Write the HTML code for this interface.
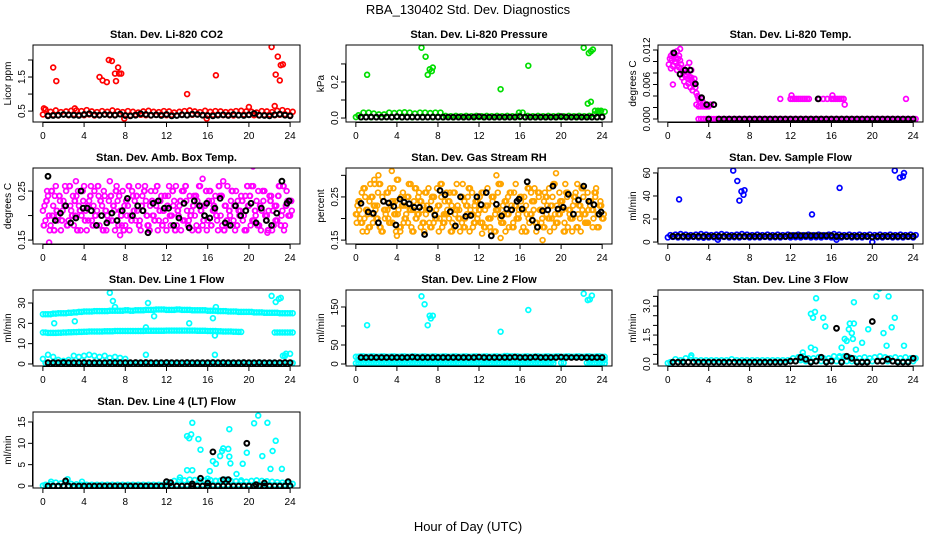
<!DOCTYPE html>
<html><head><meta charset="utf-8"><style>
body{margin:0;background:#fff}
svg{display:block;font-family:"Liberation Sans",sans-serif}
</style></head><body>
<svg id="chart" width="936" height="540" viewBox="0 0 936 540">
<rect width="936" height="540" fill="#fff"/>
<text x="468" y="14" text-anchor="middle" font-size="13">RBA_130402  Std. Dev. Diagnostics</text>
<text x="468" y="531" text-anchor="middle" font-size="13">Hour of Day (UTC)</text>
</svg>
<script>
const H=[0,0.5,1,1.5,2,2.5,3,3.5,4,4.5,5,5.5,6,6.5,7,7.5,8,8.5,9,9.5,10,10.5,11,11.5,12,12.5,13,13.5,14,14.5,15,15.5,16,16.5,17,17.5,18,18.5,19,19.5,20,20.5,21,21.5,22,22.5,23,23.5,24];
const Q=[0,0.25,0.5,0.75,1,1.25,1.5,1.75,2,2.25,2.5,2.75,3,3.25,3.5,3.75,4,4.25,4.5,4.75,5,5.25,5.5,5.75,6,6.25,6.5,6.75,7,7.25,7.5,7.75,8,8.25,8.5,8.75,9,9.25,9.5,9.75,10,10.25,10.5,10.75,11,11.25,11.5,11.75,12,12.25,12.5,12.75,13,13.25,13.5,13.75,14,14.25,14.5,14.75,15,15.25,15.5,15.75,16,16.25,16.5,16.75,17,17.25,17.5,17.75,18,18.25,18.5,18.75,19,19.25,19.5,19.75,20,20.25,20.5,20.75,21,21.25,21.5,21.75,22,22.25,22.5,22.75,23,23.25,23.5,23.75,24];
const xTicks=[0,4,8,12,16,20,24];

// CO2
const co2Lo=[0.40,0.38,0.39,0.37,0.40,0.38,0.41,0.39,0.38,0.40,0.37,0.39,0.40,0.38,0.39,0.41,0.37,0.38,0.40,0.39,0.38,0.37,0.39,0.40,0.38,0.39,0.37,0.40,0.38,0.39,0.41,0.38,0.37,0.39,0.40,0.38,0.39,0.37,0.38,0.40,0.39,0.38,0.37,0.39,0.40,0.38,0.39,0.41,0.38];
const co2Hi=[0.55,0.48,0.52,0.47,0.49,0.51,0.52,0.50,0.53,0.49,0.47,0.50,0.48,0.52,0.49,0.47,0.50,0.48,0.46,0.49,0.51,0.48,0.47,0.50,0.49,0.46,0.48,0.50,0.52,0.49,0.47,0.51,0.48,0.50,0.49,0.47,0.48,0.50,0.51,0.49,0.48,0.46,0.50,0.49,0.47,0.51,0.53,0.50,0.48];
const co2OutH=[0.1,1.0,1.3,5.5,5.8,6.2,6.4,6.7,7.0,7.1,7.3,7.4,7.6,3.1,14.0,16.8,20.0,22.2,22.5,22.6,22.8,23.0,23.1,23.3,7.9,15.9];
const co2OutV=[0.58,1.78,1.38,1.5,1.4,1.35,2.0,1.97,1.6,1.38,1.78,1.6,1.6,0.58,1.0,1.55,0.62,2.38,0.65,1.57,2.1,1.4,1.85,1.87,0.28,0.28];
const co2Blk=[null,0.36,0.37,0.38,0.40,0.39,0.38,0.37,0.40,0.42,0.39,0.38,0.40,0.39,0.38,0.41,0.37,0.36,0.38,0.42,0.40,0.38,0.39,0.37,0.40,0.36,0.37,0.39,0.38,0.41,0.40,0.38,0.37,0.36,0.38,0.39,0.37,0.40,0.38,0.37,0.39,0.43,0.38,0.37,0.36,0.39,0.41,0.38,0.36];

// Pressure
const prLo=[0.005,0.004,0.005,0.004,0.005,0.004,0.005,0.004,0.005,0.004,0.005,0.004,0.005,0.004,0.005,0.004,0.005,0.004,0.005,0.004,0.005,0.004,0.005,0.004,0.005,0.004,0.005,0.004,0.005,0.004,0.005,0.004,0.005,0.004,0.005,0.004,0.005,0.004,0.005,0.004,0.005,0.004,0.005,0.004,0.005,0.004,0.005,0.004,0.005];
const prHi=[0.015,0.03,0.03,0.025,0.02,0.02,0.03,0.028,0.03,0.032,0.03,0.025,0.03,0.03,0.028,0.03,0.03,0.012,0.01,0.012,0.01,0.012,0.01,0.012,0.01,0.012,0.01,0.012,0.01,0.012,0.01,0.012,0.03,0.012,0.01,0.012,0.01,0.012,0.01,0.012,0.01,0.012,0.01,0.012,0.01,0.012,0.02,0.035,0.035];
const prOutH=[1.1,6.4,6.8,7.0,7.2,7.4,7.5,16.8,14.1,15.9,22.2,22.7,22.9,23.1,22.6,22.9,23.3,23.6,23.9];
const prOutV=[0.24,0.39,0.34,0.24,0.27,0.26,0.28,0.29,0.16,0.03,0.39,0.36,0.37,0.38,0.08,0.09,0.04,0.04,0.04];
const prBlk=[null,0.005,0.005,0.006,0.005,0.005,0.006,0.005,0.008,0.005,0.005,0.006,0.005,0.005,0.005,0.006,0.005,0.005,0.005,0.005,0.005,0.005,0.005,0.006,0.008,0.005,0.005,0.005,0.005,0.005,0.005,0.005,0.008,0.005,0.005,0.005,0.005,0.005,0.005,0.005,0.008,0.005,0.005,0.006,0.005,0.005,0.005,0.005,0.006];

// Li-820 Temp
const ltH=[0.1,0.2,0.3,0.4,0.5,0.6,0.7,0.8,0.9,1.0,1.1,1.2,1.3,0.3,0.5,0.7,0.9,1.1,1.3,1.5,1.6,1.7,1.8,1.9,2.0,2.1,2.2,2.3,2.4,2.5,2.6,1.4,1.6,1.8,2.0,2.2,2.4,2.6,2.7,2.8,2.9,3.0,3.1,3.2,3.3,3.4,2.8,3.0,3.2,3.4,3.6,3.8,4.0,4.2,0.5,1.2,1.9,2.3,2.1,0.8,11.0,12.0,12.2,12.4,12.6,12.8,13.0,13.2,13.4,13.6,13.8,14.8,15.2,15.6,16.0,16.2,16.4,16.6,16.8,17.0,17.2,17.3,23.3,12.1,16.1];
const ltV=[0.0095,0.0105,0.011,0.0102,0.0115,0.0108,0.0112,0.0098,0.0118,0.0105,0.011,0.0122,0.0095,0.0088,0.0092,0.0100,0.0085,0.0090,0.0088,0.0080,0.0085,0.0075,0.0078,0.0082,0.0070,0.0074,0.0068,0.0072,0.0065,0.0060,0.0070,0.0072,0.0065,0.0058,0.0062,0.0055,0.0050,0.0062,0.0055,0.0045,0.0040,0.0035,0.0030,0.0028,0.0035,0.0030,0.0025,0.0022,0.0022,0.0022,0.0022,0.0022,0.0022,0.0025,0.0060,0.0102,0.0090,0.0085,0.0098,0.0105,0.0035,0.0035,0.0035,0.0035,0.0035,0.0035,0.0035,0.0035,0.0035,0.0035,0.0035,0.0035,0.0035,0.0035,0.0035,0.0035,0.0035,0.0035,0.0035,0.0035,0.0035,0.0025,0.0035,0.0041,0.0041];
const ltZero=[null,null,null,null,null,null,0,0,0,0,0,0,0,0,0,0,0,0,0,0,0,0,0,0,0,0,0,0,0,0,0,0,0,0,0,0,0,0,0,0,0,0,0,0,0,0,0,0,0];
const ltBlkH=[0.6,1.2,1.7,2.2,2.7,3.3,3.8,4.5,14.7];
const ltBlkV=[0.0115,0.0078,0.0085,0.0085,0.0061,0.0037,0.0025,0.0025,0.0035];
const ltBlkZero=[null,null,null,null,null,null,null,null,0,null,0,0,0,0,0,0,0,0,0,0,0,0,0,0,0,0,0,0,0,0,0,0,0,0,0,0,0,0,0,0,0,0,0,0,0,0,0,0,0];

// Amb box temp
const ambA=[0.21,0.19,0.24,0.18,0.22,0.26,0.20,0.17,0.23,0.25,0.19,0.21,0.18,0.24,0.22,0.20,0.26,0.17,0.23,0.19,0.25,0.21,0.18,0.22,0.24,0.20,0.27,0.19,0.17,0.23,0.21,0.25,0.18,0.22,0.20,0.24,0.19,0.26,0.17,0.21,0.23,0.18,0.25,0.20,0.22,0.19,0.24,0.21,0.17,0.26,0.20,0.23,0.18,0.22,0.25,0.19,0.21,0.24,0.17,0.20,0.23,0.26,0.18,0.22,0.19,0.25,0.21,0.24,0.17,0.20,0.27,0.22,0.18,0.23,0.19,0.25,0.21,0.24,0.20,0.17,0.22,0.26,0.19,0.23,0.18,0.21,0.25,0.20,0.24,0.17,0.22,0.19,0.26,0.21,0.18,0.23,0.20];
const ambB=[0.18,0.23,0.20,0.25,0.17,0.21,0.24,0.19,0.22,0.18,0.26,0.20,0.23,0.17,0.21,0.25,0.19,0.22,0.24,0.18,0.20,0.26,0.23,0.17,0.21,0.19,0.24,0.22,0.25,0.18,0.20,0.17,0.23,0.26,0.19,0.21,0.24,0.18,0.22,0.25,0.20,0.17,0.23,0.19,0.26,0.21,0.18,0.24,0.22,0.20,0.25,0.17,0.21,0.23,0.19,0.26,0.18,0.20,0.22,0.24,0.17,0.21,0.19,0.25,0.23,0.18,0.22,0.20,0.26,0.24,0.17,0.19,0.21,0.25,0.22,0.18,0.20,0.23,0.17,0.26,0.24,0.19,0.21,0.18,0.22,0.25,0.20,0.17,0.23,0.21,0.19,0.24,0.18,0.26,0.22,0.20,0.23];
const ambC=[0.22,0.25,0.17,0.20,0.24,0.19,0.23,0.21,0.26,0.18,0.22,0.24,0.20,0.25,0.17,0.23,0.21,0.19,0.26,0.22,0.18,0.24,0.20,0.25,0.17,0.23,0.19,0.21,0.26,0.24,0.18,0.22,0.20,0.17,0.25,0.23,0.21,0.19,0.24,0.26,0.18,0.22,0.20,0.25,0.17,0.23,0.21,0.19,0.24,0.18,0.22,0.26,0.20,0.17,0.25,0.23,0.19,0.21,0.24,0.18,0.26,0.22,0.20,0.17,0.25,0.23,0.21,0.19,0.24,0.18,0.22,0.26,0.20,0.25,0.17,0.23,0.21,0.19,0.24,0.22,0.18,0.26,0.20,0.25,0.17,0.23,0.19,0.21,0.24,0.18,0.22,0.26,0.20,0.17,0.25,0.23,0.21];
const ambOutH=[0.6,20.4,3.2,7.5,15.5,21.8];
const ambOutV=[0.145,0.30,0.27,0.16,0.275,0.165];
const blkH=[0.5,1.2,1.7,2.2,2.7,3.2,3.7,3.9,4.3,4.7,5.2,5.7,6.2,6.7,7.2,7.7,8.2,8.7,9.2,9.7,10.2,10.7,11.2,11.8,12.2,12.7,13.2,13.7,14.2,14.7,15.2,15.7,15.9,16.2,16.7,17.2,17.7,18.2,18.7,19.2,19.7,20.2,20.7,21.2,21.7,22.2,22.7,23.2,23.7,23.9];
const ambBlk=[0.28,0.19,0.205,0.22,0.185,0.195,0.25,0.215,0.215,0.21,0.18,0.2,0.185,0.205,0.19,0.21,0.235,0.2,0.22,0.21,0.165,0.225,0.23,0.215,0.215,0.18,0.195,0.225,0.175,0.23,0.22,0.2,0.225,0.195,0.215,0.235,0.185,0.18,0.22,0.2,0.21,0.225,0.185,0.215,0.19,0.18,0.205,0.27,0.225,0.23];

// Gas stream RH
const rhA=[0.21,0.24,0.19,0.27,0.22,0.18,0.25,0.23,0.20,0.28,0.17,0.22,0.26,0.19,0.24,0.21,0.29,0.18,0.23,0.20,0.25,0.22,0.17,0.27,0.21,0.24,0.19,0.26,0.22,0.18,0.25,0.20,0.23,0.28,0.19,0.21,0.24,0.17,0.26,0.22,0.20,0.25,0.18,0.23,0.27,0.21,0.19,0.24,0.22,0.26,0.18,0.23,0.20,0.25,0.17,0.22,0.28,0.19,0.24,0.21,0.26,0.18,0.23,0.20,0.25,0.22,0.17,0.27,0.21,0.24,0.19,0.26,0.22,0.18,0.25,0.20,0.23,0.28,0.19,0.21,0.24,0.17,0.26,0.22,0.20,0.25,0.18,0.23,0.27,0.21,0.19,0.24,0.22,0.26,0.18,0.23,0.20];
const rhB=[0.19,0.22,0.26,0.20,0.17,0.24,0.21,0.28,0.23,0.18,0.25,0.20,0.22,0.27,0.19,0.24,0.21,0.17,0.26,0.23,0.19,0.28,0.22,0.20,0.25,0.18,0.23,0.21,0.27,0.24,0.19,0.22,0.17,0.25,0.21,0.26,0.20,0.23,0.18,0.28,0.22,0.19,0.24,0.21,0.17,0.26,0.23,0.20,0.25,0.19,0.22,0.27,0.18,0.24,0.21,0.26,0.20,0.23,0.17,0.25,0.22,0.19,0.28,0.21,0.24,0.18,0.23,0.20,0.26,0.22,0.17,0.25,0.19,0.24,0.21,0.27,0.20,0.18,0.23,0.26,0.22,0.19,0.25,0.21,0.17,0.24,0.28,0.20,0.22,0.19,0.26,0.23,0.18,0.25,0.21,0.24,0.20];
const rhC=[0.23,0.20,0.17,0.25,0.21,0.28,0.19,0.22,0.26,0.18,0.24,0.21,0.20,0.23,0.27,0.17,0.22,0.25,0.19,0.21,0.28,0.18,0.24,0.20,0.26,0.22,0.17,0.23,0.19,0.25,0.21,0.27,0.20,0.18,0.24,0.22,0.26,0.19,0.21,0.23,0.17,0.28,0.20,0.25,0.22,0.18,0.24,0.21,0.19,0.26,0.23,0.20,0.17,0.25,0.22,0.28,0.19,0.21,0.24,0.18,0.23,0.26,0.20,0.22,0.17,0.25,0.21,0.19,0.24,0.27,0.18,0.22,0.20,0.26,0.23,0.17,0.25,0.21,0.19,0.24,0.22,0.28,0.18,0.20,0.23,0.26,0.21,0.17,0.25,0.19,0.22,0.24,0.20,0.27,0.18,0.23,0.21];
const rhOutH=[3.5,2.2,1.8,13.7,19.5,18.2,14.1,4.0,12.3];
const rhOutV=[0.31,0.30,0.29,0.30,0.305,0.15,0.155,0.16,0.165];
const rhBlk=[0.235,0.215,0.212,0.19,0.24,0.236,0.228,0.185,0.245,0.238,0.234,0.226,0.226,0.163,0.222,0.208,0.265,0.255,0.216,0.183,0.25,0.205,0.207,0.250,0.232,0.26,0.16,0.233,0.206,0.222,0.22,0.24,0.245,0.222,0.285,0.196,0.18,0.218,0.22,0.275,0.222,0.226,0.256,0.21,0.243,0.275,0.24,0.232,0.21,0.215];

// Sample flow
const sfLo=[4,4.5,4,4.2,4,4.5,4,3.8,4,4.2,4,4.5,4,4.2,4,4.5,4,4.2,4,4.5,4,4.2,4,4.5,4,4.2,4,4.5,4,4.2,4,4.5,4,4.2,4,4.5,4,4.2,4,4.5,4,4.2,4,4.5,4,4.2,4,4.5,4];
const sfHi=[6,6.5,7,6.5,6,6.5,7,6.5,6,6.5,7,6.5,6,6.5,7,6.5,6,6.5,6,6.5,6,6.5,6,6.5,6,6.5,6,6.5,6,6.5,6,6.5,7,6.5,6,6.5,6,6.5,6,6.5,6,6.5,6,6.5,6,6.5,6,6.5,6];
const sfOutH=[1.1,6.4,6.8,7.0,7.2,7.4,7.5,14.1,16.8,22.2,22.7,23.0,23.1,4.9,16.5,20.0];
const sfOutV=[37,62,53,36,44,41,45,24,47,62,56,57,60,2,2,0];
const sfBlk=[null,5,5,5,5,5,5,5,5,5,5,5,5,5,5,5,5,5,5,5,5,5,5,5,5.5,5.5,5.5,5.5,5.5,5.5,5.5,5.5,5.5,5,5,5,5,5,5,5,4.5,5,5,5,5,5,5,5,5];

// Line 1 flow
const l1Top=[24.5,24.5,24.8,25,25,25.2,25.4,25.6,25.8,25.8,26,26,26,26.2,26.2,26.2,26.4,26.2,26.4,26.4,26.6,26.6,26.8,26.8,26.6,26.6,26.8,26.6,26.6,26.4,26.4,26.4,26.2,26.2,26,26,25.8,25.8,25.6,25.6,25.6,25.4,25.4,25.2,25.2,25.2,25,25,25];
const l1Mid=[15.5,15.3,15.3,15.4,15.5,15.6,15.7,15.8,15.9,16,16,16,16.1,16.1,16.2,16.2,16.2,16.2,16.2,16.2,16.3,16.3,16.3,16.3,16.4,16.4,16.4,16.4,16.4,16.4,16.3,16.3,16.2,16.2,16.1,16,16,15.9,15.8,null,null,null,null,null,null,15.5,15.5,15.5,15.5];
const l1Low=[2.5,4.5,3.5,2,1.5,2,4,3.5,4,4.5,4,3.5,4,3,3.5,3,2.5,null,null,null,null,null,null,null,null,null,null,null,null,null,null,null,null,null,null,null,null,null,null,null,null,null,null,null,null,null,null,4,5];
const l1Base=[0.5,0.3,0.5,0.4,0.5,0.3,0.5,0.4,0.5,0.3,0.5,0.4,0.5,0.3,0.5,0.4,0.5,0.3,0.5,0.4,0.5,0.3,0.5,0.4,0.5,0.3,0.5,0.4,0.5,0.3,0.5,0.4,0.5,0.3,0.5,0.4,0.5,0.3,0.5,0.4,0.5,0.3,0.5,0.4,0.5,0.3,0.5,0.4,0.5];
const l1OutH=[1.1,3.1,6.5,6.8,7.0,10.0,10.2,10.8,14.2,16.5,16.8,16.7,22.2,22.6,22.9,23.1,10.0,16.7,23.3,23.6];
const l1OutV=[20,21,35,31,28,18,30,23.5,20,22.5,28,14,33.5,30.5,32,32.5,4.5,4.5,4,5];
const l1Blk=[null,0.6,0.6,0.6,0.7,0.6,0.6,0.6,0.7,0.6,0.6,0.6,0.6,0.7,0.6,0.6,0.6,0.6,0.7,0.6,0.7,0.6,0.6,0.6,0.7,0.6,0.6,0.6,0.7,0.6,0.6,0.6,0.6,0.7,0.6,0.7,0.6,0.6,0.6,0.7,0.6,0.6,0.7,0.6,0.6,0.6,0.6,0.7,0.6];

// Line 2 flow
const l2A=[19,20,19,20,19,20,19,20,19,20,19,20,19,20,19,20,19,20,19,20,19,20,19,20,19,20,19,20,19,21,20,20,19,20,19,20,19,20,19,20,19,20,19,20,19,20,19,20,19];
const l2B=[10,11,10,11,10,11,10,11,10,11,10,11,10,11,10,11,10,11,10,11,10,11,10,11,10,11,10,11,10,11,10,11,10,11,10,11,10,11,10,null,null,null,null,null,null,10,11,10,11];
const l2C=[2,3,2,3,2,3,2,3,2,3,2,3,2,3,2,3,2,3,2,3,2,3,2,3,2,3,2,3,2,3,2,3,2,3,2,3,2,3,2,null,3,null,null,null,null,3,2,3,2];
const l2OutH=[1.1,6.4,6.7,7.0,7.2,7.3,7.5,14.1,16.8,22.2,22.6,22.8,23.0];
const l2OutV=[102,178,157,102,127,120,127,85,142,185,168,170,180];
const l2Blk=[null,17,17,17,17,17,17,17,17,17,17,18,17,17,17,17,17,17,17,17,17,17,17,17,18,17,17,17,17,17,17,18,17,17,17,18,17,17,17,17,18,17,17,17,17,17,17,17,17];

// Line 3 flow
const l3Lo=[0.05,0.1,0.1,0.15,0.1,0.1,0.1,0.1,0.1,0.1,0.1,0.1,0.1,0.1,0.1,0.1,0.1,0.1,0.1,0.1,0.1,0.1,0.1,0.1,0.15,0.15,0.2,0.15,0.15,0.15,0.15,0.15,0.2,0.15,0.15,0.15,0.15,0.15,0.15,0.15,0.15,0.15,0.15,0.15,0.15,0.15,0.15,0.15,0.15];
const l3Hi=[0.1,0.25,0.2,0.3,0.35,0.2,0.2,0.2,0.2,0.2,0.2,0.2,0.25,0.2,0.2,0.2,0.2,0.2,0.2,0.2,0.2,0.2,0.2,0.2,0.3,0.35,0.4,0.3,0.3,0.35,0.3,0.3,0.4,0.35,0.4,0.35,0.3,0.3,0.35,0.3,0.35,0.4,0.35,0.3,0.35,0.3,0.35,0.3,0.3];
const l3OutH=[2.3,13.2,14.0,14.2,14.4,14.5,15.2,15.4,14.0,14.4,17.0,17.3,17.5,17.7,17.8,18.0,18.2,18.1,18.2,18.4,19.0,19.6,20.4,20.7,21.1,21.6,21.4,21.9,22.2,23.1,13.0,16.8];
const l3OutV=[0.45,0.6,2.6,2.4,2.7,3.4,2.4,1.95,0.85,0.75,0.85,1.3,1.2,1.8,2.1,1.6,2.1,1.3,3.2,0.75,1.1,1.8,3.5,3.9,1.6,3.5,0.95,1.9,2.4,0.95,0.3,0.4];
const l3Blk=[null,0.1,0.1,0.1,0.1,0.1,0.1,0.1,0.1,0.1,0.1,0.1,0.1,0.1,0.1,0.1,0.1,0.1,0.1,0.1,0.1,0.1,0.1,0.1,0.15,0.15,0.35,0.25,0.1,0.15,0.35,0.1,0.15,1.85,0.1,0.4,0.3,0.1,0.1,0.1,2.2,0.15,0.15,0.25,0.15,0.1,0.1,0.1,0.3];

// Line 4 flow
const l4Lo=[0.1,0.1,0.1,0.1,0.1,0.1,0.1,0.1,0.1,0.1,0.1,0.1,0.1,0.1,0.1,0.1,0.1,0.1,0.1,0.1,0.1,0.1,0.1,0.1,0.2,0.3,0.3,0.3,0.3,0.3,0.3,0.3,0.3,0.3,0.3,0.3,0.3,0.3,0.3,0.3,0.3,0.3,0.3,0.3,0.3,0.3,0.3,0.3,0.2];
const l4Hi=[0.3,0.5,0.8,0.6,0.9,0.5,0.4,0.3,0.3,0.3,0.3,0.3,0.3,0.3,0.3,0.3,0.3,0.3,0.3,0.3,0.3,0.3,0.3,0.3,0.8,1.2,1.4,1.3,1.5,1.4,1.2,1.3,1.4,1.2,1.3,1.5,1.2,1.1,1.3,1.0,1.2,1.3,1.2,1.1,1.0,0.9,0.8,0.7,0.5];
const l4OutH=[14.0,14.2,14.4,14.5,15.1,15.3,14.0,14.5,16.2,16.5,16.8,17.2,17.4,17.5,18.0,18.1,18.2,18.1,18.8,19.4,19.8,20.5,20.9,21.3,21.8,22.1,22.3,22.6,23.2,0.8,2.4,3.8,13.3,16.0,16.8,19.2];
const l4OutV=[11.7,11.2,12.1,14.8,11.0,8.5,3.7,3.7,3.5,5.8,5.2,7.0,8.2,8.8,8.7,6.9,5.3,13.3,2.8,5.2,7.8,14.7,16.5,7.0,14.8,4.0,8.2,10.6,4.0,1.0,1.6,1.0,2.0,1.7,1.2,1.0];
const l4BlkH=[2.2,12.0,12.4,14.5,15.3,16.0,16.5,17.5,18.0,19.8,20.7,21.5,23.8];
const l4BlkV=[1.2,1.0,0.8,0.5,1.8,0.7,8.0,1.5,1.5,10.0,0.3,0.7,1.0];
const l4Blk=[null,0,0,0,0,0,0,0,0,0,0,0,0,0,0,0,0,0,0,0,0,0,0,0,0,0,0,0,0,0,0,0,0,0,0,0,0,0,0,0,0,0,0,0,0,0,0,0,0];

const NS="http://www.w3.org/2000/svg";
const svg=document.getElementById('chart');
function el(tag,attrs,parent){const e=document.createElementNS(NS,tag);for(const k in attrs)e.setAttribute(k,attrs[k]);(parent||svg).appendChild(e);return e;}
const COLS=[[33,300],[346,612],[658,923]];
const ROWS=[[45,122],[168,244],[290,366],[412,488]];
const XMIN=-0.96,XMAX=24.96;

function panel(name,col,row,title,ylab,ymin,ymax,yt,yl,series){
  const [bx0,bx1]=COLS[col],[by0,by1]=ROWS[row];
  const g=el('g',{});
  
  
  const sx=v=>bx0+(v-XMIN)/(XMAX-XMIN)*(bx1-bx0);
  const sy=v=>by1-(v-ymin)/(ymax-ymin)*(by1-by0);
  const clip=el('clipPath',{id:'c-'+name},g);
  el('rect',{x:bx0,y:by0,width:bx1-bx0,height:by1-by0},clip);
  const pts=el('g',{'clip-path':'url(#c-'+name+')'},g);
  
  
  series.forEach(s=>{
    const n=Math.min(s.x.length,s.y.length);
    for(let i=0;i<n;i++){
      if(s.y[i]===null||s.x[i]===null)continue;
      const c=el('circle',{cx:(sx(s.x[i]+(s.dx||0))).toFixed(1),cy:sy(s.y[i]).toFixed(1),r:2.4,fill:'none',stroke:s.c,'stroke-width':s.c==='#000'?2.0:1.7},pts);
      
      
    }
  });
  const box=el('rect',{x:bx0,y:by0,width:bx1-bx0,height:by1-by0,fill:'none',stroke:'#000','stroke-width':1},g);
  
  
  const t=el('text',{x:(bx0+bx1)/2,y:by0-7,'text-anchor':'middle','font-size':11,'font-weight':'bold'},g);
  t.textContent=title;
  
  
  const yt2=el('text',{x:0,y:0,'text-anchor':'middle','font-size':10,transform:`translate(${bx0-22},${(by0+by1)/2}) rotate(-90)`},g);
  yt2.textContent=ylab;
  
  
  el('line',{x1:sx(0),x2:sx(24),y1:by1+0.5,y2:by1+0.5,stroke:'#000'},g);
  xTicks.forEach(v=>{
    el('line',{x1:sx(v),x2:sx(v),y1:by1,y2:by1+5,stroke:'#000'},g);
    const tl=el('text',{x:sx(v),y:by1+17,'text-anchor':'middle','font-size':10},g);
    tl.textContent=v;
    
    
  });
  el('line',{x1:bx0-0.5,x2:bx0-0.5,y1:sy(yt[0]),y2:sy(yt[yt.length-1]),stroke:'#000'},g);
  yt.forEach((v,i)=>{
    el('line',{x1:bx0-5,x2:bx0,y1:sy(v),y2:sy(v),stroke:'#000'},g);
    if(yl[i]){
      const tl=el('text',{x:0,y:0,'text-anchor':'middle','font-size':10,transform:`translate(${bx0-8},${sy(v)}) rotate(-90)`},g);
      tl.textContent=yl[i];
      
      
    }
  });
}
const R='#ff0000',G='#00dd00',M='#ff00ff',B='#0000ff',C='#00ffff',O='#ffa500',K='#000';
panel('co2',0,0,'Stan. Dev. Li-820 CO2','Licor ppm',0.18,2.44,[0.5,1,1.5,2],['0.5','','1.5',''],[
 {x:H,y:co2Lo,c:R,n:'co2-point'},{x:H,y:co2Hi,c:R,n:'co2-point',dx:0.25},{x:co2OutH,y:co2OutV,c:R,n:'co2-point'},{x:H,y:co2Blk,c:K,n:'co2-black-point'}]);
panel('pressure',1,0,'Stan. Dev. Li-820 Pressure','kPa',-0.022,0.405,[0,0.1,0.2,0.3],['0.0','','0.2',''],[
 {x:H,y:prLo,c:G,n:'pressure-point'},{x:H,y:prHi,c:G,n:'pressure-point',dx:0.25},{x:prOutH,y:prOutV,c:G,n:'pressure-point'},{x:H,y:prBlk,c:K,n:'pressure-black-point'}]);
panel('li820-temp',2,0,'Stan. Dev. Li-820 Temp.','degrees C',-0.00052,0.01287,[0,0.002,0.004,0.006,0.008,0.01,0.012],['0.000','','','0.006','','','0.012'],[
 {x:ltH,y:ltV,c:M,n:'li820-temp-point'},{x:H,y:ltZero,c:M,n:'li820-temp-point'},{x:H,y:ltZero,c:M,n:'li820-temp-point',dx:0.25},{x:ltBlkH,y:ltBlkV,c:K,n:'li820-temp-black-point'},{x:H,y:ltBlkZero,c:K,n:'li820-temp-black-point'}]);
panel('amb-box-temp',0,1,'Stan. Dev. Amb. Box Temp.','degrees C',0.142,0.297,[0.15,0.2,0.25],['0.15','','0.25'],[
 {x:Q,y:ambA,c:M,n:'amb-temp-point'},{x:Q,y:ambB,c:M,n:'amb-temp-point',dx:0.08},{x:Q,y:ambC,c:M,n:'amb-temp-point',dx:0.16},{x:Q,y:ambB,c:M,n:'amb-temp-point',dx:0.12},{x:ambOutH,y:ambOutV,c:M,n:'amb-temp-point'},{x:blkH,y:ambBlk,c:K,n:'amb-temp-black-point'}]);
panel('gas-rh',1,1,'Stan. Dev. Gas Stream RH','percent',0.141,0.317,[0.15,0.2,0.25,0.3],['0.15','','0.25',''],[
 {x:Q,y:rhA,c:O,n:'rh-point'},{x:Q,y:rhB,c:O,n:'rh-point',dx:0.08},{x:Q,y:rhC,c:O,n:'rh-point',dx:0.16},{x:Q,y:rhA,c:O,n:'rh-point',dx:0.12},{x:rhOutH,y:rhOutV,c:O,n:'rh-point'},{x:blkH,y:rhBlk,c:K,n:'rh-black-point'}]);
panel('sample-flow',2,1,'Stan. Dev. Sample Flow','ml/min',-1.7,64.3,[0,20,40,60],['0','20','40','60'],[
 {x:H,y:sfLo,c:B,n:'sample-flow-point'},{x:H,y:sfHi,c:B,n:'sample-flow-point',dx:0.25},{x:sfOutH,y:sfOutV,c:B,n:'sample-flow-point'},{x:H,y:sfBlk,c:K,n:'sample-flow-black-point'}]);
panel('line1-flow',0,2,'Stan. Dev. Line 1 Flow','ml/min',-1,36.4,[0,10,20,30],['0','10','20','30'],[
 {x:H,y:l1Top,c:C,n:'line1-point'},{x:H,y:l1Top,c:C,n:'line1-point',dx:0.25},{x:H,y:l1Mid,c:C,n:'line1-point'},{x:H,y:l1Mid,c:C,n:'line1-point',dx:0.25},{x:H,y:l1Low,c:C,n:'line1-point'},{x:H,y:l1Base,c:C,n:'line1-point',dx:0.25},{x:l1OutH,y:l1OutV,c:C,n:'line1-point'},{x:H,y:l1Blk,c:K,n:'line1-black-point'}]);
panel('line2-flow',1,2,'Stan. Dev. Line 2 Flow','ml/min',-5.3,194.7,[0,50,100,150],['0','50','','150'],[
 {x:H,y:l2A,c:C,n:'line2-point'},{x:H,y:l2A,c:C,n:'line2-point',dx:0.25},{x:H,y:l2B,c:C,n:'line2-point',dx:0.25},{x:H,y:l2C,c:C,n:'line2-point'},{x:H,y:l2C,c:C,n:'line2-point',dx:0.25},{x:l2OutH,y:l2OutV,c:C,n:'line2-point'},{x:H,y:l2Blk,c:K,n:'line2-black-point'}]);
panel('line3-flow',2,2,'Stan. Dev. Line 3 Flow','ml/min',-0.1,3.83,[0,0.5,1,1.5,2,2.5,3,3.5],['0.0','','','1.5','','','3.0',''],[
 {x:H,y:l3Lo,c:C,n:'line3-point'},{x:H,y:l3Hi,c:C,n:'line3-point',dx:0.25},{x:l3OutH,y:l3OutV,c:C,n:'line3-point'},{x:H,y:l3Blk,c:K,n:'line3-black-point'}]);
panel('line4-flow',0,3,'Stan. Dev. Line 4 (LT) Flow','ml/min',-0.47,17.34,[0,5,10,15],['0','5','10','15'],[
 {x:H,y:l4Lo,c:C,n:'line4-point'},{x:H,y:l4Hi,c:C,n:'line4-point',dx:0.25},{x:l4OutH,y:l4OutV,c:C,n:'line4-point'},{x:H,y:l4Blk,c:K,n:'line4-black-point'},{x:l4BlkH,y:l4BlkV,c:K,n:'line4-black-point'}]);
</script>
</body></html>
